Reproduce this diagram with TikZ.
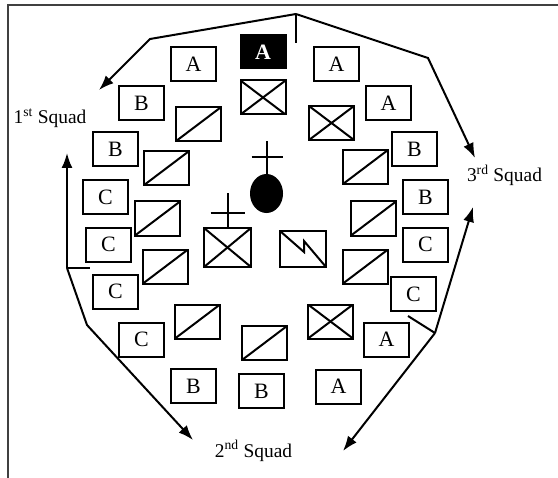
\documentclass[tikz,border=0pt]{standalone}
\usepackage{fontspec}
\setmainfont{Liberation Serif}
\usetikzlibrary{arrows.meta,shapes.geometric}

\begin{document}
\begin{tikzpicture}
  [x=1bp,y=-1bp,line width=2bp,
   every node/.style={draw,minimum width=45bp,minimum height=34bp,inner sep=0pt,font=\fontsize{22}{22}\selectfont},
   diag/.style={path picture={\draw (path picture bounding box.south west) -- (path picture bounding box.north east);}},
   xbox/.style={path picture={\draw (path picture bounding box.south west) -- (path picture bounding box.north east);
                              \draw (path picture bounding box.north west) -- (path picture bounding box.south east);}},
   bolt/.style={path picture={\draw (path picture bounding box.north west) -- ([xshift=1bp,yshift=-3bp]path picture bounding box.center)
                              -- ([xshift=1bp,yshift=8bp]path picture bounding box.center) -- (path picture bounding box.south east);}},
   squad/.style={draw=none,minimum width=0pt,minimum height=0pt,font=\fontsize{19.5}{20}\selectfont},
   arr/.style={-{Latex[length=15bp,width=11bp]}}]
  \useasboundingbox (0,0) rectangle (558,478);
  \draw[line width=2.5bp,black!75] (8,478) -- (8,5) -- (558,5);

  % outer ring of elements
  \node (ahq)[fill=black,text=white,minimum height=33bp,font=\fontsize{22}{22}\selectfont\bfseries] at (263,52) {A};
  \node (a1) at (193.5,64.5) {A};
  \node (a2) at (336.5,64.5) {A};
  \node (a3) at (388.5,103.5) {A};
  \node (a4) at (386.5,339.5) {A};
  \node (a5) at (338.5,386.5) {A};
  \node (b1) at (141.5,103.5) {B};
  \node (b2) at (115.5,149) {B};
  \node (b3) at (193.5,386) {B};
  \node (b4) at (261.5,391) {B};
  \node (b5) at (414.5,149) {B};
  \node (b6) at (425.5,197) {B};
  \node (c1) at (105.5,197) {C};
  \node (c2) at (108.5,244.5) {C};
  \node (c3) at (115.5,291.5) {C};
  \node (c4) at (141.5,339.5) {C};
  \node (c5) at (425.5,244.5) {C};
  \node (c6) at (413.5,294) {C};

  % inner ring
  \node (d1)[diag] at (198,124.5) {};
  \node (d2)[diag] at (166,168.5) {};
  \node (d3)[diag] at (157.5,218.5) {};
  \node (d4)[diag] at (165.5,266.5) {};
  \node (d5)[diag] at (197.5,321.5) {};
  \node (d6)[diag] at (264.5,343) {};
  \node (d7)[diag] at (365.5,266.5) {};
  \node (d8)[diag] at (373.5,218.5) {};
  \node (d9)[diag] at (365.5,167) {};
  \node (x1)[xbox] at (263,97.5) {};
  \node (x2)[xbox] at (331.5,123) {};
  \node (x3)[xbox] at (330.5,321.5) {};

  % centre
  \node (hq)[ellipse,fill=black,minimum width=31bp,minimum height=37bp] at (266.5,193.5) {};
  \node (cp)[xbox,minimum width=47bp,minimum height=39bp] at (227.5,247.5) {};
  \node (sig)[bolt,minimum width=46bp,minimum height=36bp] at (303,249) {};
  \draw (hq.north) -- ++(0,-33) coordinate (hqtop);
  \draw ([xshift=-15bp,yshift=-16bp]hqtop) -- ++(31,0);
  \draw (cp.north) -- ++(0,-34) coordinate (cptop);
  \draw ([xshift=-17bp,yshift=-20bp]cptop) -- ++(34,0);

  % squads
  \node (sq1)[squad] at (50,118) {1\textsuperscript{st} Squad};
  \node (sq2)[squad] at (253.5,451) {2\textsuperscript{nd} Squad};
  \node (sq3)[squad] at (504.5,175.5) {3\textsuperscript{rd} Squad};

  \coordinate (top) at (296,14);
  \coordinate (tl) at (150,39);
  \coordinate (tr) at (428,58);
  \coordinate (t1) at (99,90);
  \coordinate (t3) at (475,158);
  \coordinate (lj) at (67,268);
  \coordinate (lb) at (87,325);
  \coordinate (l1) at (67,153);
  \coordinate (l2) at (193,440);
  \coordinate (rj) at (435,333);
  \coordinate (r3) at (473,207);
  \coordinate (r2) at (343,451);

  \draw[arr] (top) -- (tl) -- (t1);
  \draw[arr] (top) -- (tr) -- (t3);
  \draw (top) -- ++(0,29);
  \draw[arr] (lj) -- (lb) -- (l2);
  \draw (lj) -- ++(23,0);
  \draw (rj) -- ++(-27,-17);
  \foreach \from/\to in {lj/l1,rj/r3,rj/r2}
    \draw[arr] (\from) -- (\to);

\end{tikzpicture}
\end{document}
